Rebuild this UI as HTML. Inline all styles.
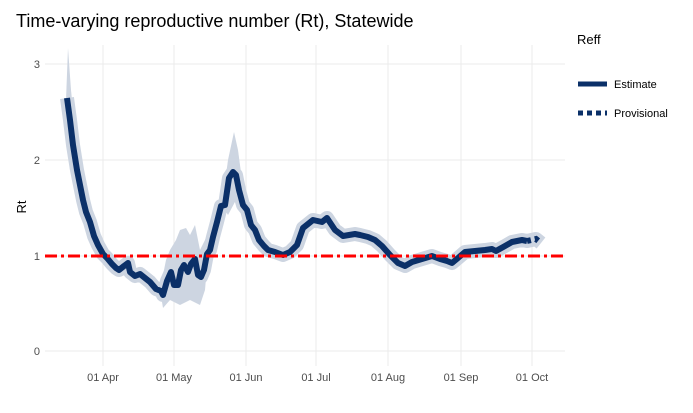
<!DOCTYPE html>
<html><head><style>
body{margin:0;background:#fff;font-family:"Liberation Sans",sans-serif;}
</style></head><body>
<svg width="693" height="408" viewBox="0 0 693 408" xmlns="http://www.w3.org/2000/svg" font-family="Liberation Sans, sans-serif">
<rect width="693" height="408" fill="#fff"/>
<g stroke="#ebebeb" stroke-width="1">
<line x1="45" y1="351" x2="565" y2="351"/><line x1="45" y1="256" x2="565" y2="256"/>
<line x1="45" y1="160" x2="565" y2="160"/><line x1="45" y1="64" x2="565" y2="64"/>
<line x1="103" y1="45" x2="103" y2="366"/><line x1="174" y1="45" x2="174" y2="366"/>
<line x1="246" y1="45" x2="246" y2="366"/><line x1="316" y1="45" x2="316" y2="366"/>
<line x1="388" y1="45" x2="388" y2="366"/><line x1="461" y1="45" x2="461" y2="366"/>
<line x1="532" y1="45" x2="532" y2="366"/>
</g>
<g fill="#cdd5e1">
<polygon points="66,100 68,48 71,90 75,130 78,160 70,170 66,130"/>
<polygon points="160,290 166,260 170,250 176,240 180,230 186,228 190,235 195,225 200,250 205,240 210,230 205,290 200,305 190,300 180,305 170,300 163,308"/>
<polygon points="222,205 228,160 234,132 238,150 242,180 236,200 228,215"/>
</g>
<polyline fill="none" stroke="#cdd5e1" stroke-width="14" stroke-linejoin="round" points="67,98 70,120 73,145 77,170 80,185 83,200 86,212 90,222 94,236 98,245 103,254 107,258 112,264 116,268 119,270 124,266 128,263 130,272 135,276 140,274 145,278 150,282 156,289 161,291 163,295 167,281 171,272 174,285 178,285 181,270 184,265 188,272 191,264 195,259 198,275 201,277 204,270 207,254 210,250 213,237 217,222 221,206 225,205 229,178 233,172 236,175 239,190 243,205 247,210 251,225 255,230 259,240 264,246 268,250 275,252 283,255 290,252 297,245 303,228 313,220 322,222 327,218 335,230 343,236 355,234 360,235 368,237 375,240 382,246 390,255 398,263 405,266 412,262 422,259 432,256 440,259 447,261 452,263 458,258 465,252 475,251 485,250 492,249 496,251 505,246 512,242 522,240 527,241 536,239 541,243"/>
<polyline fill="none" stroke="#0b3068" stroke-width="6" stroke-linejoin="round" points="67,98 70,120 73,145 77,170 80,185 83,200 86,212 90,222 94,236 98,245 103,254 107,258 112,264 116,268 119,270 124,266 128,263 130,272 135,276 140,274 145,278 150,282 156,289 161,291 163,295 167,281 171,272 174,285 178,285 181,270 184,265 188,272 191,264 195,259 198,275 201,277 204,270 207,254 210,250 213,237 217,222 221,206 225,205 229,178 233,172 236,175 239,190 243,205 247,210 251,225 255,230 259,240 264,246 268,250 275,252 283,255 290,252 297,245 303,228 313,220 322,222 327,218 335,230 343,236 355,234 360,235 368,237 375,240 382,246 390,255 398,263 405,266 412,262 422,259 432,256 440,259 447,261 452,263 458,258 465,252 475,251 485,250 492,249 496,251 505,246 512,242 522,240 527,241"/>
<polyline fill="none" stroke="#0b3068" stroke-width="6" stroke-dasharray="4,4" points="527,241 536,239 541,243"/>
<line x1="45" y1="256" x2="565" y2="256" stroke="#ff0000" stroke-width="3" stroke-dasharray="12,4,3,4"/>
<g font-size="11" fill="#4d4d4d" text-anchor="end">
<text x="40" y="355">0</text><text x="40" y="260">1</text><text x="40" y="164">2</text><text x="40" y="68">3</text></g>
<g font-size="11" fill="#4d4d4d" text-anchor="middle">
<text x="103" y="381">01 Apr</text><text x="174" y="381">01 May</text><text x="246" y="381">01 Jun</text><text x="316" y="381">01 Jul</text><text x="388" y="381">01 Aug</text><text x="461" y="381">01 Sep</text><text x="532" y="381">01 Oct</text></g>
<text x="26" y="207" font-size="13" transform="rotate(-90 26 207)" text-anchor="middle">Rt</text>
<text x="16" y="27" font-size="18" fill="#000">Time-varying reproductive number (Rt), Statewide</text>
<text x="577" y="44" font-size="13">Reff</text>
<line x1="578" y1="84" x2="607" y2="84" stroke="#0b3068" stroke-width="5"/>
<text x="614" y="88" font-size="11">Estimate</text>
<line x1="578" y1="113" x2="607" y2="113" stroke="#0b3068" stroke-width="5" stroke-dasharray="5,4"/>
<text x="614" y="117" font-size="11">Provisional</text>
</svg>
</body></html>
